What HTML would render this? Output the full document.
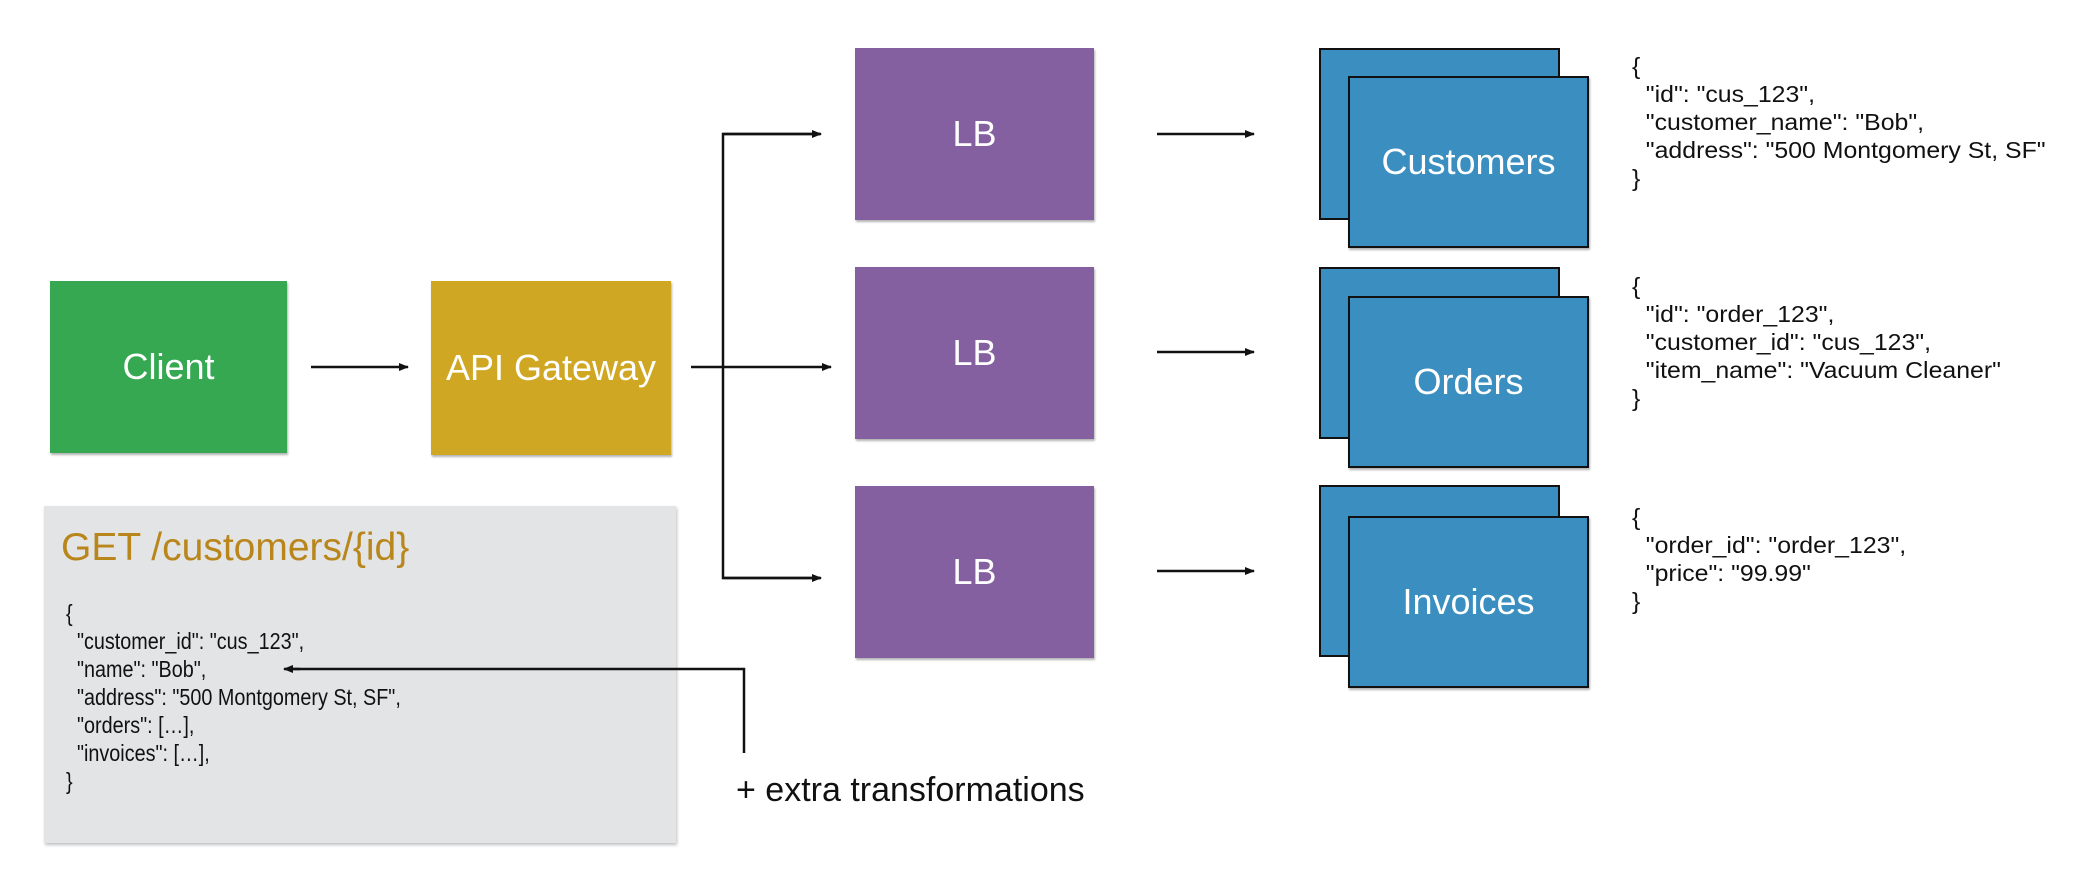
<!DOCTYPE html>
<html><head><meta charset="utf-8"><style>
body{margin:0;width:2075px;height:871px;background:#fff;position:relative;overflow:hidden;font-family:"Liberation Sans",sans-serif}
.b{position:absolute;display:flex;align-items:center;justify-content:center;color:#fff;font-size:36px;box-shadow:1px 2px 2px rgba(0,0,0,.3)}
.s{position:absolute;background:#3a8fc0;border:2px solid #111;box-sizing:border-box}
.sf{display:flex;align-items:center;justify-content:center;color:#fff;font-size:36px;box-shadow:1px 2px 2px rgba(0,0,0,.3)}
.j{position:absolute;font-size:23px;line-height:28px;white-space:pre;color:#111;transform-origin:0 0}
.r{transform:scaleX(1.08)}
.l{transform:scaleX(0.86)}
svg{position:absolute;left:0;top:0}
</style></head><body>
<div class="b" style="left:50px;top:281px;width:237px;height:172px;background:#36a852">Client</div>
<div class="b" style="left:431px;top:281px;width:240px;height:174px;background:#cfa722">API Gateway</div>
<div class="b" style="left:855px;top:48px;width:239px;height:172px;background:#8460a0">LB</div>
<div class="b" style="left:855px;top:267px;width:239px;height:172px;background:#8460a0">LB</div>
<div class="b" style="left:855px;top:486px;width:239px;height:172px;background:#8460a0">LB</div>

<div class="s" style="left:1319px;top:48px;width:241px;height:172px"></div>
<div class="s sf" style="left:1348px;top:76px;width:241px;height:172px">Customers</div>
<div class="s" style="left:1319px;top:267px;width:241px;height:172px"></div>
<div class="s sf" style="left:1348px;top:296px;width:241px;height:172px">Orders</div>
<div class="s" style="left:1319px;top:485px;width:241px;height:172px"></div>
<div class="s sf" style="left:1348px;top:516px;width:241px;height:172px">Invoices</div>

<div class="j r" style="left:1632px;top:52px">{
  "id": "cus_123",
  "customer_name": "Bob",
  "address": "500 Montgomery St, SF"
}</div>
<div class="j r" style="left:1632px;top:272px">{
  "id": "order_123",
  "customer_id": "cus_123",
  "item_name": "Vacuum Cleaner"
}</div>
<div class="j r" style="left:1632px;top:503px">{
  "order_id": "order_123",
  "price": "99.99"
}</div>

<div style="position:absolute;left:44px;top:506px;width:632px;height:337px;background:#e3e4e6;box-shadow:1px 2px 3px rgba(0,0,0,.25)"></div>
<div style="position:absolute;left:61px;top:526px;font-size:39px;color:#b8861b">GET /customers/{id}</div>
<div class="j l" style="left:66px;top:599px">{
  "customer_id": "cus_123",
  "name": "Bob",
  "address": "500 Montgomery St, SF",
  "orders": […],
  "invoices": […],
}</div>
<div style="position:absolute;left:736px;top:771px;font-size:34px;color:#111">+ extra transformations</div>

<svg width="2075" height="871">
<defs><marker id="a" markerWidth="10" markerHeight="8" refX="9" refY="4" orient="auto" markerUnits="userSpaceOnUse"><path d="M0,0L10,4L0,8z" fill="#111"/></marker></defs>
<g stroke="#111" stroke-width="2.5" fill="none">
<line x1="311" y1="367" x2="408" y2="367" marker-end="url(#a)"/>
<line x1="691" y1="367" x2="831" y2="367" marker-end="url(#a)"/>
<polyline points="820,134 723,134 723,578 820,578"/>
<line x1="723" y1="134" x2="821" y2="134" marker-end="url(#a)"/>
<line x1="723" y1="578" x2="821" y2="578" marker-end="url(#a)"/>
<line x1="1157" y1="134" x2="1254" y2="134" marker-end="url(#a)"/>
<line x1="1157" y1="352" x2="1254" y2="352" marker-end="url(#a)"/>
<line x1="1157" y1="571" x2="1254" y2="571" marker-end="url(#a)"/>
<polyline points="744,753 744,669 290,669"/>
<line x1="300" y1="669" x2="284" y2="669" marker-end="url(#a)"/>
</g></svg>
</body></html>
